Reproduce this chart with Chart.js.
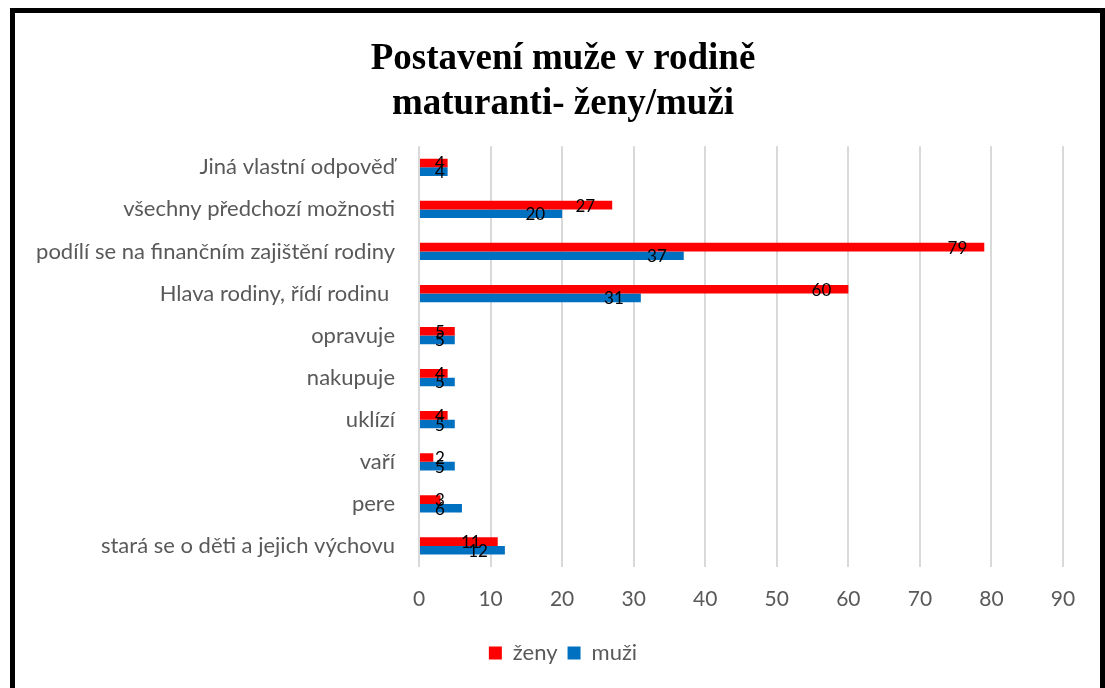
<!DOCTYPE html>
<html>
<head>
<meta charset="utf-8">
<script src="https://cdn.jsdelivr.net/npm/chart.js@4/dist/chart.umd.min.js"></script>
<style>
  html, body { margin: 0; padding: 0; background: #fff; overflow: hidden; width: 1105px; height: 688px; }
  #frame { position: absolute; left: 10px; top: 8px; width: 1095px; height: 720px; box-sizing: border-box; border: 5px solid #000; }
  #wrap { position: absolute; left: 0; top: 0; width: 1105px; height: 688px; }
</style>
</head>
<body>
<div id="frame"></div>
<div id="wrap"><canvas id="c" width="1105" height="688"></canvas></div>
<script>
const titleLines = ['Postavení muže v rodině', 'maturanti- ženy/muži'];
const categories = [
  'Jiná vlastní odpověď',
  'všechny předchozí možnosti',
  'podílí se na finančním zajištění rodiny',
  'Hlava rodiny, řídí rodinu ',
  'opravuje',
  'nakupuje',
  'uklízí',
  'vaří',
  'pere',
  'stará se o děti a jejich výchovu'
];
const seriesNames = ['ženy', 'muži'];
const zeny = [4, 27, 79, 60, 5, 4, 4, 2, 3, 11];
const muzi = [4, 20, 37, 31, 5, 5, 5, 5, 6, 12];
const xTicks = [0, 10, 20, 30, 40, 50, 60, 70, 80, 90];

const labelFont = 'Lato, "Open Sans", sans-serif';

const dataLabels = {
  id: 'dataLabels',
  afterDatasetsDraw(chart) {
    const ctx = chart.ctx;
    ctx.save();
    ctx.font = '17px ' + labelFont;
    ctx.fillStyle = '#000';
    ctx.textAlign = 'center';
    ctx.textBaseline = 'middle';
    chart.data.datasets.forEach((ds, di) => {
      const meta = chart.getDatasetMeta(di);
      meta.data.forEach((el, i) => {
        const txt = String(ds.data[i]);
        const w = ctx.measureText(txt).width;
        const right = el.x - 17;
        let cx = right - w / 2;
        cx = Math.max(cx, el.base + 20);
        ctx.fillText(txt, cx, el.y + 1);
      });
    });
    ctx.restore();
  }
};

// let long category labels extend left of the layout padding (no clipping)
const widenYLabels = {
  id: 'widenYLabels',
  afterLayout(chart) {
    const y = chart.scales.y;
    y.left = 0;
    y.width = y.right;
  }
};

new Chart(document.getElementById('c'), {
  type: 'bar',
  data: {
    labels: categories,
    datasets: [
      { label: seriesNames[0], data: zeny, backgroundColor: '#FF0000', borderWidth: 0, categoryPercentage: 0.41, barPercentage: 1 },
      { label: seriesNames[1], data: muzi, backgroundColor: '#0070C0', borderWidth: 0, categoryPercentage: 0.41, barPercentage: 1 }
    ]
  },
  options: {
    indexAxis: 'y',
    responsive: false,
    animation: false,
    layout: { padding: { left: 63, right: 42, top: 0, bottom: 14 } },
    plugins: {
      title: {
        display: true,
        text: titleLines,
        color: '#000',
        font: { family: '"Liberation Serif", "Times New Roman", serif', size: 37, weight: 'bold', lineHeight: 1.22 },
        padding: { top: 37, bottom: 19 }
      },
      legend: {
        display: true,
        position: 'bottom',
        labels: {
          color: '#595959',
          font: { family: labelFont, size: 22 },
          boxWidth: 13,
          boxHeight: 13,
          padding: 10
        }
      },
      tooltip: { enabled: false }
    },
    scales: {
      x: {
        min: 0,
        max: 90,
        afterBuildTicks(scale) { scale.ticks = xTicks.map(v => ({ value: v })); },
        afterFit(scale) { scale.height = 65; },
        grid: { color: '#D9D9D9', lineWidth: 2, drawTicks: false },
        border: { display: false },
        ticks: { color: '#595959', font: { family: labelFont, size: 21 }, padding: 20 }
      },
      y: {
        afterFit(scale) { scale.width = 356; },
        grid: { display: false, drawTicks: false },
        border: { display: false },
        ticks: { color: '#595959', font: { family: labelFont, size: 22 }, padding: 24, autoSkip: false }
      }
    }
  },
  plugins: [dataLabels, widenYLabels]
});
</script>
</body>
</html>
